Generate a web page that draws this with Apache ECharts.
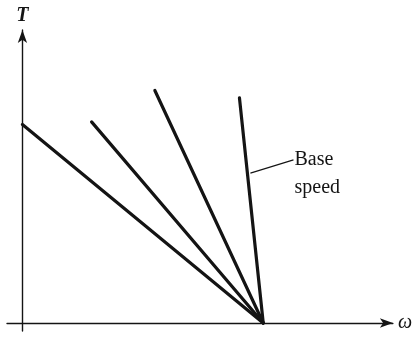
<!DOCTYPE html>
<html><head><meta charset="utf-8">
<script src="https://cdn.jsdelivr.net/npm/echarts@6/dist/echarts.min.js"></script>
<style>html,body{margin:0;padding:0;background:#fff}#c{width:415px;height:338px}</style>
</head><body><div id="c"></div>
<script>
// Torque-speed lines all converging at the same speed on the ω axis
var convergence = [15.6, 0];
var line1 = [[0, 12.4], convergence];
var line2 = [[4.48, 12.56], convergence];
var line3 = [[8.58, 14.52], convergence];
var line4 = [[14.06, 14.06], convergence];   // base speed
var leader = [[14.77, 9.36], [17.56, 10.19]];
var labelText = 'Base\nspeed';
var axisNames = ['ω', 'T'];

var chart = echarts.init(document.getElementById('c'));
var ink = '#141414';
function mainLine(d) {
  return {type: 'line', data: d, symbol: 'none', silent: true,
    lineStyle: {color: ink, width: 3.2, cap: 'round'}};
}
chart.setOption({
  animation: false,
  grid: {left: 7, right: 20, top: 30, bottom: 7},
  xAxis: {type: 'value', min: -1, max: 24, name: axisNames[0], nameLocation: 'end', nameGap: 5,
    nameTextStyle: {fontFamily: 'Liberation Serif', fontStyle: 'italic', fontSize: 20, color: ink},
    axisLine: {onZero: true, symbol: ['none', 'arrow'], symbolSize: [7, 13], lineStyle: {color: ink, width: 1.4}},
    axisTick: {show: false}, axisLabel: {show: false}, splitLine: {show: false}},
  yAxis: {type: 'value', min: -0.5, max: 18.3, name: axisNames[1], nameLocation: 'end', nameGap: 4,
    nameTextStyle: {fontFamily: 'Liberation Serif', fontStyle: 'italic', fontWeight: 'bold', fontSize: 20, color: ink},
    axisLine: {onZero: true, symbol: ['none', 'arrow'], symbolSize: [7, 13], lineStyle: {color: ink, width: 1.4}},
    axisTick: {show: false}, axisLabel: {show: false}, splitLine: {show: false}},
  series: [
    mainLine(line1), mainLine(line2), mainLine(line3), mainLine(line4),
    {type: 'line', data: leader, symbol: 'none', silent: true,
      lineStyle: {color: ink, width: 1.2},
      endLabel: {show: true, formatter: labelText, distance: 1, offset: [0, 14],
        fontFamily: 'Liberation Serif', fontSize: 20, lineHeight: 28, color: ink, align: 'left', verticalAlign: 'middle'}}
  ]
});
</script></body></html>
